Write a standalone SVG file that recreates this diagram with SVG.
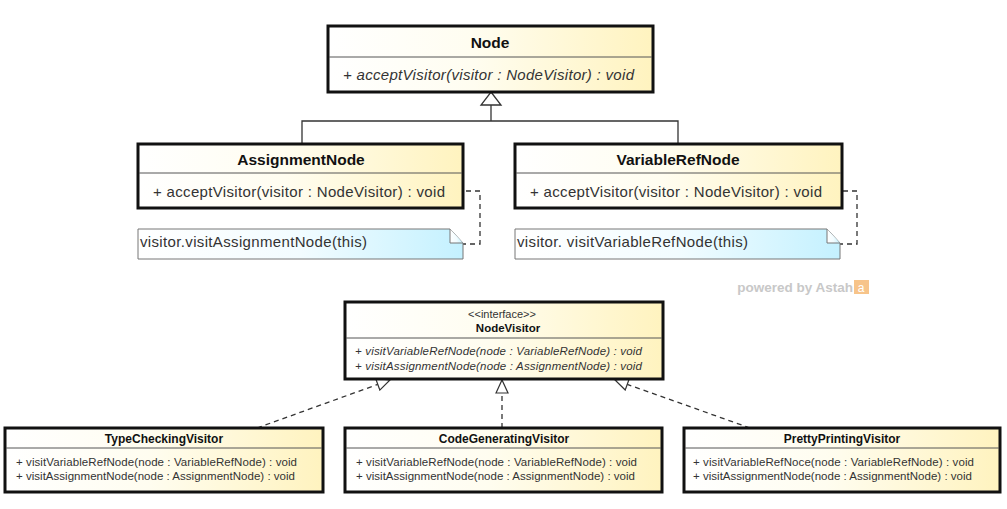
<svg xmlns="http://www.w3.org/2000/svg" width="1007" height="509" viewBox="0 0 1007 509">
  <defs>
    <linearGradient id="classFill" x1="0" y1="0" x2="1" y2="0">
      <stop offset="0" stop-color="#ffffff"/>
      <stop offset="0.45" stop-color="#fffdf0"/>
      <stop offset="1" stop-color="#fff3bf"/>
    </linearGradient>
    <linearGradient id="noteFill" x1="0" y1="0" x2="1" y2="0">
      <stop offset="0" stop-color="#ffffff"/>
      <stop offset="0.5" stop-color="#f2fcff"/>
      <stop offset="1" stop-color="#c4f1ff"/>
    </linearGradient>
    <marker id="realize" markerWidth="16" markerHeight="14" refX="14" refY="7" orient="auto" markerUnits="userSpaceOnUse">
      <path d="M1,1 L14,7 L1,13 Z" fill="#ffffff" stroke="#333333" stroke-width="1.2"/>
    </marker>
  </defs>
  <style>
    .cls { fill: url(#classFill); stroke: #111111; stroke-width: 3; }
    .div { stroke: #555555; stroke-width: 1; }
    .note { fill: url(#noteFill); stroke: #777777; stroke-width: 1; }
    .title { font-family: "Liberation Sans", Arial, sans-serif; font-weight: bold; fill: #111111; text-anchor: middle; }
    .op { font-family: "Liberation Sans", Arial, sans-serif; fill: #333333; }
    .it { font-style: italic; }
    .edge { fill: none; stroke: #333333; stroke-width: 1.3; }
    .dash { fill: none; stroke: #333333; stroke-width: 1.3; stroke-dasharray: 5 4; }
    .gen { fill: #ffffff; stroke: #333333; stroke-width: 1.3; }
  </style>

  <rect width="1007" height="509" fill="#ffffff"/>

  <!-- connectors -->
  <g id="connectors">
    <!-- generalization: Node <- AssignmentNode / VariableRefNode -->
    <path class="edge" d="M302,144 V121 H678 V144"/>
    <path class="edge" d="M491,121 V105"/>
    <path class="gen" d="M491,92 L501,105 L481,105 Z"/>
    <!-- note anchors -->
    <circle cx="453" cy="191" r="2.5" fill="#444444"/>
    <path class="dash" d="M457,191 H480 V244 H463"/>
    <circle cx="830" cy="191" r="2.5" fill="#444444"/>
    <path class="dash" d="M834,191 H857 V244 H840"/>
    <!-- realization: visitors -> NodeVisitor -->
    <path class="dash" d="M257,428 L390,380" marker-end="url(#realize)"/>
    <path class="dash" d="M502,428 L502,380" marker-end="url(#realize)"/>
    <path class="dash" d="M750,428 L615,380" marker-end="url(#realize)"/>
  </g>

  <!-- Node -->
  <g id="node-Node">
    <rect class="cls" x="328" y="26" width="325" height="66"/>
    <line class="div" x1="329" y1="57" x2="652" y2="57"/>
    <text class="title" x="490" y="48" font-size="15.5">Node</text>
    <text class="op it" x="343" y="80" font-size="15" textLength="291">+ acceptVisitor(visitor : NodeVisitor) : void</text>
  </g>

  <!-- AssignmentNode -->
  <g id="node-AssignmentNode">
    <rect class="cls" x="138" y="144" width="325" height="64"/>
    <line class="div" x1="139" y1="173" x2="462" y2="173"/>
    <text class="title" x="301" y="165" font-size="15.5">AssignmentNode</text>
    <text class="op" x="153" y="197" font-size="15" textLength="292">+ acceptVisitor(visitor : NodeVisitor) : void</text>
  </g>

  <!-- VariableRefNode -->
  <g id="node-VariableRefNode">
    <rect class="cls" x="515" y="144" width="327" height="64"/>
    <line class="div" x1="516" y1="173" x2="841" y2="173"/>
    <text class="title" x="678" y="165" font-size="15.5">VariableRefNode</text>
    <text class="op" x="530" y="197" font-size="15" textLength="292">+ acceptVisitor(visitor : NodeVisitor) : void</text>
  </g>

  <!-- note for AssignmentNode -->
  <g id="note-AssignmentNode">
    <path class="note" d="M138,229 H450 L463,243 V259 H138 Z"/>
    <path class="note" d="M450,229 V243 H463" fill="none"/>
    <text class="op" x="140" y="247" font-size="15" fill="#222222" textLength="227">visitor.visitAssignmentNode(this)</text>
  </g>

  <!-- note for VariableRefNode -->
  <g id="note-VariableRefNode">
    <path class="note" d="M515,229 H827 L840,243 V259 H515 Z"/>
    <path class="note" d="M827,229 V243 H840" fill="none"/>
    <text class="op" x="517" y="247" font-size="15" fill="#222222" textLength="231">visitor. visitVariableRefNode(this)</text>
  </g>

  <!-- watermark -->
  <g id="watermark">
    <text x="853" y="292" font-family="'Liberation Sans', Arial, sans-serif" font-weight="bold" font-size="13.5" fill="#c8c8c8" text-anchor="end">powered by Astah</text>
    <rect x="854" y="280" width="15" height="14" fill="#f7c48a"/>
    <text x="861" y="292" font-family="'Liberation Sans', Arial, sans-serif" font-size="12" fill="#ffffff" text-anchor="middle">a</text>
  </g>

  <!-- NodeVisitor -->
  <g id="node-NodeVisitor">
    <rect class="cls" x="345" y="302" width="318" height="77"/>
    <line class="div" x1="346" y1="338" x2="662" y2="338"/>
    <text class="op" x="502" y="318" font-size="11" text-anchor="middle">&lt;&lt;interface&gt;&gt;</text>
    <text class="title" x="508" y="332" font-size="11.5">NodeVisitor</text>
    <text class="op it" x="355" y="355" font-size="11.5" textLength="287">+ visitVariableRefNode(node : VariableRefNode) : void</text>
    <text class="op it" x="355" y="370" font-size="11.5" textLength="287">+ visitAssignmentNode(node : AssignmentNode) : void</text>
  </g>

  <!-- TypeCheckingVisitor -->
  <g id="node-TypeCheckingVisitor">
    <rect class="cls" x="5" y="428" width="318" height="64"/>
    <line class="div" x1="6" y1="448" x2="322" y2="448"/>
    <text class="title" x="164" y="443" font-size="12">TypeCheckingVisitor</text>
    <text class="op" x="16" y="466" font-size="11.5" textLength="281">+ visitVariableRefNode(node : VariableRefNode) : void</text>
    <text class="op" x="16" y="480" font-size="11.5" textLength="279">+ visitAssignmentNode(node : AssignmentNode) : void</text>
  </g>

  <!-- CodeGeneratingVisitor -->
  <g id="node-CodeGeneratingVisitor">
    <rect class="cls" x="345" y="428" width="317" height="64"/>
    <line class="div" x1="346" y1="448" x2="661" y2="448"/>
    <text class="title" x="504" y="443" font-size="12">CodeGeneratingVisitor</text>
    <text class="op" x="356" y="466" font-size="11.5" textLength="281">+ visitVariableRefNode(node : VariableRefNode) : void</text>
    <text class="op" x="356" y="480" font-size="11.5" textLength="279">+ visitAssignmentNode(node : AssignmentNode) : void</text>
  </g>

  <!-- PrettyPrintingVisitor -->
  <g id="node-PrettyPrintingVisitor">
    <rect class="cls" x="684" y="428" width="316" height="64"/>
    <line class="div" x1="685" y1="448" x2="999" y2="448"/>
    <text class="title" x="842" y="443" font-size="12">PrettyPrintingVisitor</text>
    <text class="op" x="693" y="466" font-size="11.5" textLength="281">+ visitVariableRefNoce(node : VariableRefNode) : void</text>
    <text class="op" x="693" y="480" font-size="11.5" textLength="279">+ visitAssignmentNode(node : AssignmentNode) : void</text>
  </g>
</svg>
